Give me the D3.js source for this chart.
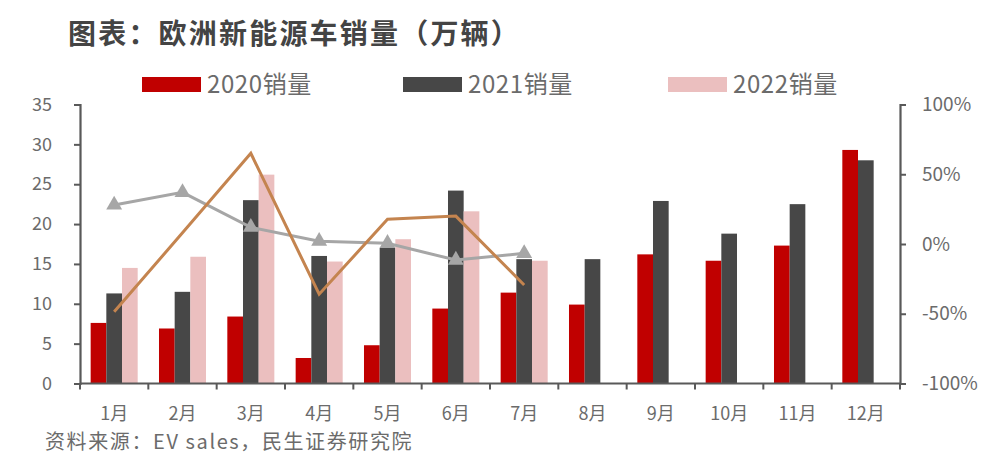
<!DOCTYPE html>
<html>
<head>
<meta charset="utf-8">
<script src="https://cdn.jsdelivr.net/npm/d3@7"></script>
<style>
  html, body { margin: 0; padding: 0; background: #fff; }
  svg { display: block; }
  text { font-family: "Noto Sans CJK SC", "Noto Sans", sans-serif; }
</style>
</head>
<body>
<svg id="chart" width="1000" height="466"></svg>
<script>
// ---- data ----
const months = ["1月","2月","3月","4月","5月","6月","7月","8月","9月","10月","11月","12月"];
const sales2020 = [7.6, 6.9, 8.4, 3.2, 4.8, 9.4, 11.4, 9.9, 16.2, 15.4, 17.3, 29.3];
const sales2021 = [11.3, 11.5, 23.0, 16.0, 17.0, 24.2, 15.6, 15.6, 22.9, 18.8, 22.5, 28.0];
const sales2022 = [14.5, 15.9, 26.2, 15.3, 18.1, 21.6, 15.4, null, null, null, null, null];
const growthGray = [28, 37, 12, 2, 0.5, -11.5, -6.7];      // %
const growthOrange = [-48.5, 8, 65, -36, 17.7, 20, -29.4];  // %
const leftTicks = [0, 5, 10, 15, 20, 25, 30, 35];
const rightTicks = [-100, -50, 0, 50, 100];
const seriesNames = ["2020销量", "2021销量", "2022销量"];
const title = "图表：欧洲新能源车销量（万辆）";
const source = "资料来源：EV sales，民生证券研究院";

// ---- styles ----
const colors = ["#C00000", "#474747", "#EBBFBF"];
const axisColor = "#595959";
const textColor = "#6b6b6b";

const svg = d3.select("#chart");
const L = 80, R = 900, T = 104.5, B = 383.5;

const x = d3.scaleBand().domain(months).range([L, R]).paddingInner(0).paddingOuter(0);
const x1 = d3.scaleBand().domain([0, 1, 2]).range([0, x.bandwidth()]).paddingInner(0).paddingOuter(0.68);
const y = d3.scaleLinear().domain([0, 35]).range([B, T]);
const y2 = d3.scaleLinear().domain([-100, 100]).range([B, T]);

// title
svg.append("text").attr("x", 68).attr("y", 44)
  .attr("font-size", 28).attr("font-weight", "bold").attr("fill", "#444")
  .attr("letter-spacing", 2.2)
  .text(title);

// legend
const legendPos = [142, 403, 668];
seriesNames.forEach((n, i) => {
  svg.append("rect").attr("x", legendPos[i]).attr("y", 77).attr("width", 59).attr("height", 15).attr("fill", colors[i]);
  svg.append("text").attr("x", legendPos[i] + 65).attr("y", 93)
    .attr("font-size", 24).attr("letter-spacing", 0.6).attr("fill", textColor).text(n);
});

// bars
const allSeries = [sales2020, sales2021, sales2022];
const g = svg.append("g");
allSeries.forEach((vals, si) => {
  g.selectAll(null).data(vals.map((v, i) => ({ m: months[i], v })).filter(d => d.v != null))
    .enter().append("rect")
    .attr("x", d => x(d.m) + x1(si))
    .attr("y", d => y(d.v))
    .attr("width", x1.bandwidth())
    .attr("height", d => y(0) - y(d.v))
    .attr("fill", colors[si]);
});

// axes
const fontAxis = 18;
const leftAxis = svg.append("g").attr("transform", `translate(${L},0)`)
  .call(d3.axisLeft(y).tickValues(leftTicks).tickSize(6).tickPadding(22).tickFormat(d3.format("d")));
const rightAxis = svg.append("g").attr("transform", `translate(${R},0)`)
  .call(d3.axisRight(y2).tickValues(rightTicks).tickSize(6).tickPadding(16).tickFormat(d => d + "%"));
const bottomAxis = svg.append("g").attr("transform", `translate(0,${B})`)
  .call(d3.axisBottom(x).tickSize(0).tickPadding(24));

[leftAxis, rightAxis, bottomAxis].forEach(a => {
  a.select(".domain").attr("stroke", axisColor).attr("stroke-width", 2.2);
  a.selectAll(".tick line").attr("stroke", axisColor).attr("stroke-width", 2);
  a.selectAll("text").attr("fill", textColor).attr("font-size", fontAxis)
    .attr("font-family", '"Noto Sans CJK SC", "Noto Sans", sans-serif');
});
rightAxis.selectAll("text").attr("font-size", 19);
leftAxis.selectAll("text").attr("text-anchor", "end");
bottomAxis.select(".domain").attr("d", `M${L},0H${R}`);
// band-boundary tick marks on x axis
const bounds = months.map(m => x(m)).concat([x(months[months.length - 1]) + x.bandwidth()]);
bottomAxis.selectAll(".bt").data(bounds).enter().append("line")
  .attr("x1", d => d).attr("x2", d => d).attr("y1", 0).attr("y2", 6)
  .attr("stroke", axisColor).attr("stroke-width", 2);

// lines
const cx = i => x(months[i]) + x.bandwidth() / 2;
const lineGen = d3.line().x((d, i) => cx(i)).y(d => y2(d));
svg.append("path").datum(growthGray).attr("d", lineGen)
  .attr("fill", "none").attr("stroke", "#A6A6A6").attr("stroke-width", 3);
svg.selectAll(".tri").data(growthGray).enter().append("path")
  .attr("transform", (d, i) => `translate(${cx(i)},${y2(d)})`)
  .attr("d", d3.symbol().type(d3.symbolTriangle).size(110))
  .attr("fill", "#A6A6A6");
svg.append("path").datum(growthOrange).attr("d", lineGen)
  .attr("fill", "none").attr("stroke", "#C4844F").attr("stroke-width", 3);

// source
svg.append("text").attr("x", 45).attr("y", 449)
  .attr("font-size", 20).attr("letter-spacing", 1.6).attr("fill", textColor).text(source);
</script>
</body>
</html>
